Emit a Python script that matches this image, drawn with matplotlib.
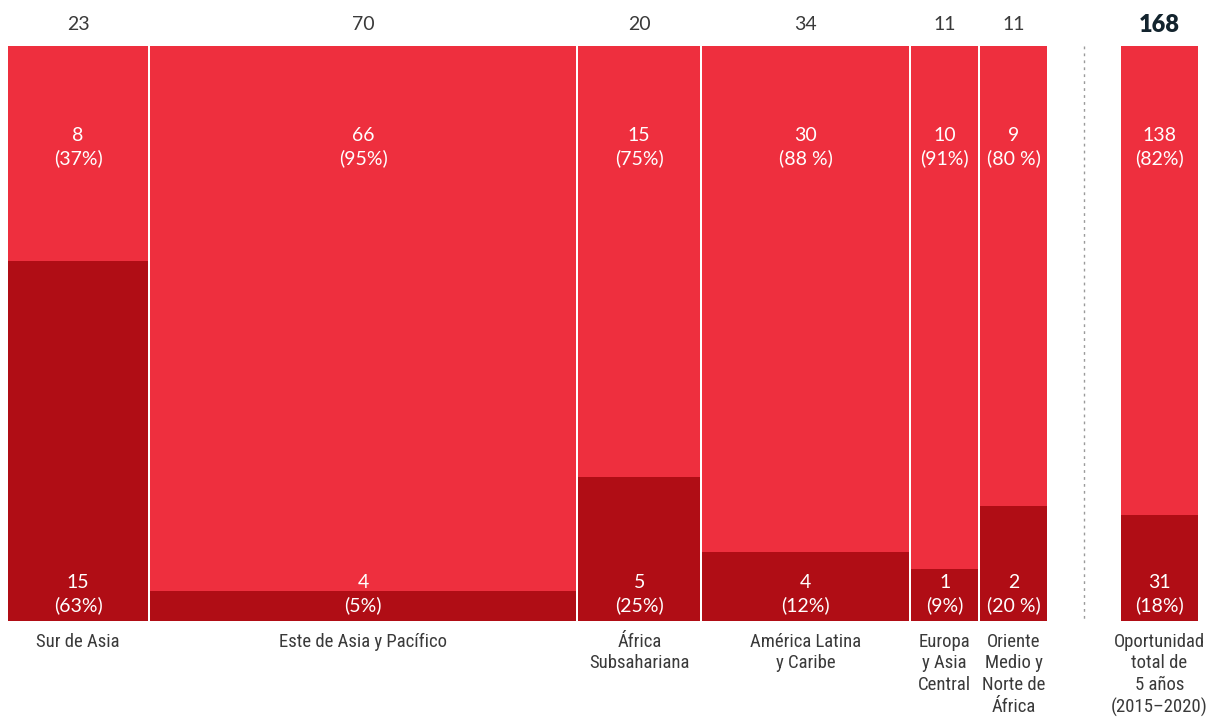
import matplotlib
matplotlib.use("Agg")
import matplotlib.pyplot as plt
from matplotlib import font_manager

# --- data -------------------------------------------------------------------
regions = ["Sur de Asia", "Este de Asia y Pacífico", "África\nSubsahariana",
           "América Latina\ny Caribe", "Europa\ny Asia\nCentral",
           "Oriente\nMedio y\nNorte de\nÁfrica"]
totals = [23, 70, 20, 34, 11, 11]
top_vals = [8, 66, 15, 30, 10, 9]
top_pct = ["37%", "95%", "75%", "88 %", "91%", "80 %"]
bottom_vals = [15, 4, 5, 4, 1, 2]
bottom_pct = ["63%", "5%", "25%", "12%", "9%", "20 %"]
bottom_share = [0.626, 0.052, 0.25, 0.12, 0.09, 0.20]

total_label = "Oportunidad\ntotal de\n5 años\n(2015–2020)"
grand_total = 168
grand_top, grand_top_pct = 138, "82%"
grand_bottom, grand_bottom_pct = 31, "18%"
grand_bottom_share = 0.184

LIGHT = "#ee2f3e"
DARK = "#b00d15"
GREY = "#3a3a3a"
NAVY = "#13242e"

installed = {f.name for f in font_manager.fontManager.ttflist}
num_font = ["Lato", "DejaVu Sans"]
cat_font = ["Roboto Condensed", "Liberation Sans Narrow", "Roboto", "DejaVu Sans"]
cat_font = [f for f in cat_font if f in installed] or ["DejaVu Sans"]

# --- layout (pixel-ish units) -----------------------------------------------
W, H = 1212, 717
K = 6.09          # px per unit of opportunity
GAP = 2.0 / K     # white gap between regions
X0 = 8 / K
BAR_TOP, BAR_BOT = 46, 621
span = BAR_BOT - BAR_TOP

fig = plt.figure(figsize=(W / 100, H / 100), dpi=100)
ax = fig.add_axes([0, 0, 1, 1])
ax.set_xlim(0, W / K)
ax.set_ylim(-(H - BAR_BOT) / span, 1 + BAR_TOP / span)
ax.axis("off")

def y_px(py):
    return (BAR_BOT - py) / span

def draw_column(x, w, share, top_txt, bot_txt):
    ax.bar(x, share, width=w, align="edge", color=DARK, linewidth=0)
    ax.bar(x, 1 - share, bottom=share, width=w, align="edge", color=LIGHT, linewidth=0)
    cx = x + w / 2
    ax.text(cx, y_px(147), top_txt, ha="center", va="center", color="white",
            fontsize=14, family=num_font, linespacing=1.3)
    ax.text(cx, y_px(594), bot_txt, ha="center", va="center", color="white",
            fontsize=14, family=num_font, linespacing=1.3)

x = X0
for name, tot, tv, tp, bv, bp, bs in zip(regions, totals, top_vals, top_pct,
                                          bottom_vals, bottom_pct, bottom_share):
    draw_column(x, tot, bs, f"{tv}\n({tp})", f"{bv}\n({bp})")
    cx = x + tot / 2
    ax.text(cx, y_px(25), str(tot), ha="center", va="center", color=GREY,
            fontsize=14, family=num_font)
    ax.text(cx, y_px(633), name, ha="center", va="top", color=GREY,
            fontsize=13.5, family=cat_font, linespacing=1.25)
    x += tot + GAP

# dotted separator
sep_x = 1084 / K
ax.plot([sep_x, sep_x], [y_px(46), y_px(621)], color="#9a9a9a",
        linestyle=(0, (2, 3)), linewidth=1)

# total column
tx, tw = 1121 / K, 77 / K
draw_column(tx, tw, grand_bottom_share, f"{grand_top}\n({grand_top_pct})",
            f"{grand_bottom}\n({grand_bottom_pct})")
ax.text(tx + tw / 2, y_px(25), str(grand_total), ha="center", va="center",
        color=NAVY, fontsize=17, fontweight="heavy", family=num_font)
ax.text(tx + tw / 2, y_px(633), total_label, ha="center", va="top", color=GREY,
        fontsize=13.5, family=cat_font, linespacing=1.25)

fig.savefig("out.png", dpi=100)
